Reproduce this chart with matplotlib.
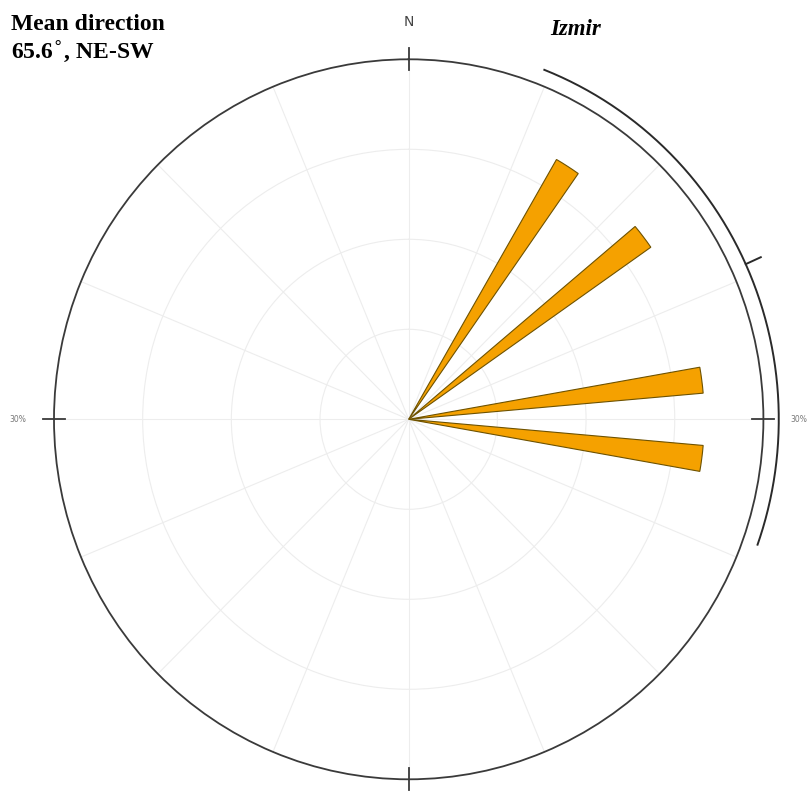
import numpy as np
import matplotlib
matplotlib.use("Agg")
import matplotlib.pyplot as plt

# Rose diagram of orientations (Izmir)
bin_start_deg = [30, 50, 80, 95]     # lower edge of each 5-degree bin
bin_width_deg = 5
freq_pct = [25, 25, 25, 25]           # share of observations per bin (%)
r_max_pct = 30                        # outer circle
ring_levels = [7.5, 15, 22.5]
spoke_step_deg = 22.5
mean_dir_deg = 65.6
ci_low_deg, ci_high_deg = 21.5, 109.5
title_lines = ["Mean direction", "65.6$^{\\circ}$, NE-SW"]
site_name = "Izmir"

W, H = 811, 794
fig = plt.figure(figsize=(W / 100, H / 100), dpi=100)
fig.patch.set_facecolor("white")

# polar axes placed so the outer circle sits in the chosen pixel box
cx, cy = 408.7, 419.3
rx, ry = 354.7, 360.0
ax = fig.add_axes([(cx - rx) / W, (H - cy - ry) / H, 2 * rx / W, 2 * ry / H],
                  projection="polar")
ax.set_aspect("auto")
ax.set_theta_zero_location("N")
ax.set_theta_direction(-1)
ax.set_ylim(0, r_max_pct)
ax.set_facecolor("white")

grid_col = "#ededed"
ax.set_thetagrids(np.arange(0, 360, spoke_step_deg), labels=[""] * 16)
ax.set_rgrids(ring_levels, labels=[""] * len(ring_levels))
ax.grid(True, color=grid_col, lw=0.8)
ax.set_axisbelow(True)
ax.tick_params(length=0)
ax.spines["polar"].set_color("#3a3a3a")
ax.spines["polar"].set_linewidth(1.3)

# bars
centers = np.deg2rad(np.array(bin_start_deg) + bin_width_deg / 2)
ax.bar(centers, freq_pct, width=np.deg2rad(bin_width_deg), bottom=0,
       color="#F5A100", edgecolor="#6e5200", linewidth=0.8, zorder=3)

# cardinal ticks across the outer circle
tick_half = 0.93
for a in [0, 90, 180, 270]:
    t = np.deg2rad(a)
    ax.plot([t, t], [r_max_pct - tick_half, r_max_pct + tick_half],
            color="#3a3a3a", lw=1.3, clip_on=False, zorder=4)

# arc spanning the interval around the mean direction, with a tick at the mean
r_arc = 31.3
th = np.deg2rad(np.linspace(ci_low_deg, ci_high_deg, 300))
ax.plot(th, np.full_like(th, r_arc), color="#2a2a2a", lw=1.4,
        clip_on=False, zorder=4)
tm = np.deg2rad(mean_dir_deg)
ax.plot([tm, tm], [r_arc, r_arc + 1.4], color="#2a2a2a", lw=1.4,
        clip_on=False, zorder=4)

# labels
fig.text(409 / W, 1 - 22 / H, "N", ha="center", va="center",
         fontsize=10, color="#444444", family="DejaVu Sans")
fig.text(18 / W, 1 - 420 / H, "30%", ha="center", va="center",
         fontsize=5.5, color="#777777")
fig.text(799 / W, 1 - 420 / H, "30%", ha="center", va="center",
         fontsize=5.5, color="#777777")

for line, base_y in zip(title_lines, [29.5, 57.5]):
    fig.text(11 / W, 1 - base_y / H, line, ha="left", va="baseline",
             fontsize=17, fontweight="bold", family="Liberation Serif",
             color="black")
fig.text(550 / W, 1 - 35 / H, site_name, ha="left", va="baseline",
         fontsize=16.5, fontweight="bold", fontstyle="italic",
         family="Liberation Serif", color="black")

fig.savefig("out.png", dpi=100, facecolor="white")
